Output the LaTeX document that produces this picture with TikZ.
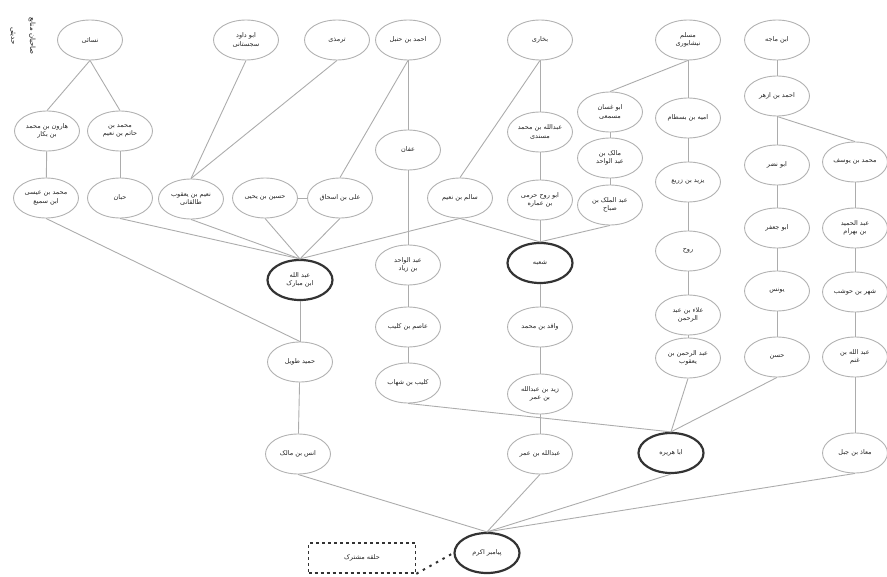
\documentclass[tikz,border=0pt]{standalone}
\usepackage{fontspec}
\newfontfamily\arabicfont[Script=Arabic]{DejaVu Sans}
\TeXXeTstate=1
\usetikzlibrary{shapes.geometric}
\newcommand{\prs}[1]{{\arabicfont\beginR #1\endR}}
\begin{document}
\begin{tikzpicture}[x=1pt,y=-1pt,
  nd/.style={ellipse, draw=gray!60, line width=0.9pt, fill=white,
    minimum width=65pt, minimum height=40pt, inner xsep=-12pt, inner ysep=-5pt,
    align=center, font=\fontsize{6.5}{8.5}\selectfont, text=black!85},
  keynd/.style={nd, draw=black!80, line width=2.2pt},
  ed/.style={draw=gray!65, line width=0.9pt},
  boxnd/.style={draw=black!80, line width=1.6pt, dash pattern=on 3pt off 3pt,
    minimum width=107pt, minimum height=30pt, inner sep=0pt,
    font=\fontsize{6.5}{8.5}\selectfont, text=black!85},
  dotline/.style={draw=black!80, line width=2pt, dash pattern=on 2.5pt off 5pt}]
\useasboundingbox (0,0) rectangle (887,577);

% row 1
\node[nd] (nasai) at (90,40) {\prs{نسائی}};
\node[nd] (abudawud) at (246,40) {\prs{ابو داود}\\\prs{سجستانی}};
\node[nd] (tirmidhi) at (337,40) {\prs{ترمذی}};
\node[nd] (ahmad) at (408,40) {\prs{احمد بن حنبل}};
\node[nd] (bukhari) at (540,40) {\prs{بخاری}};
\node[nd] (muslim) at (688,40) {\prs{مسلم}\\\prs{نیشابوری}};
\node[nd] (ibnmajah) at (777,40) {\prs{ابن ماجه}};

% row 2
\node[nd] (harun) at (47,131) {\prs{هارون بن محمد}\\\prs{بن بکار}};
\node[nd] (mhatim) at (120,131) {\prs{محمد بن}\\\prs{حاتم بن نعیم}};
\node[nd] (affan) at (408,150) {\prs{عفان}};
\node[nd] (musnadi) at (540,132) {\prs{عبدالله بن محمد}\\\prs{مسندی}};
\node[nd] (ghassan) at (610,112) {\prs{ابو غسان}\\\prs{مسمعی}};
\node[nd] (umayya) at (688,118) {\prs{امیه بن بسطام}};
\node[nd] (azhar) at (777,96) {\prs{احمد بن ازهر}};
\node[nd] (malik) at (610,158) {\prs{مالک بن}\\\prs{عبد الواحد}};
\node[nd] (nadr) at (777,165) {\prs{ابو نضر}};
\node[nd] (yusuf) at (855,162) {\prs{محمد بن یوسف}};
\node[nd] (yazid) at (688,182) {\prs{یزید بن زریع}};

% row 3
\node[nd] (isa) at (46,198) {\prs{محمد بن عیسی}\\\prs{ابن سمیع}};
\node[nd] (hibban) at (120,198) {\prs{حبان}};
\node[nd] (naim) at (191,199) {\prs{نعیم بن یعقوب}\\\prs{طالقانی}};
\node[nd] (husayn) at (265,198) {\prs{حسین بن یحیی}};
\node[nd] (ali) at (340,198) {\prs{علی بن اسحاق}};
\node[nd] (salim) at (460,198) {\prs{سالم بن نعیم}};
\node[nd] (harami) at (540,200) {\prs{ابو روح حرمی}\\\prs{بن عماره}};
\node[nd] (abdulmalik) at (610,205) {\prs{عبد الملک بن}\\\prs{صباح}};
\node[nd] (jafar) at (777,228) {\prs{ابو جعفر}};
\node[nd] (hamid) at (855,228) {\prs{عبد الحمید}\\\prs{بن بهرام}};
\node[nd] (rawh) at (688,251) {\prs{روح}};

% middle
\node[keynd] (mubarak) at (300,280) {\prs{عبد الله}\\\prs{ابن مبارک}};
\node[nd] (abdulwahid) at (408,265) {\prs{عبد الواحد}\\\prs{بن زیاد}};
\node[keynd] (shuba) at (540,263) {\prs{شعبه}};
\node[nd] (yunus) at (777,291) {\prs{یونس}};
\node[nd] (shahr) at (855,292) {\prs{شهر بن حوشب}};
\node[nd] (ala) at (688,315) {\prs{علاء بن عبد}\\\prs{الرحمن}};
\node[nd] (asim) at (408,327) {\prs{عاصم بن کلیب}};
\node[nd] (waqid) at (540,327) {\prs{واقد بن محمد}};
\node[nd] (abdrahman) at (688,358) {\prs{عبد الرحمن بن}\\\prs{یعقوب}};
\node[nd] (hasan) at (777,357) {\prs{حسن}};
\node[nd] (ghanm) at (855,357) {\prs{عبد الله بن}\\\prs{غنم}};
\node[nd] (humayd) at (300,362) {\prs{حمید طویل}};
\node[nd] (kulayb) at (408,383) {\prs{کلیب بن شهاب}};
\node[nd] (zayd) at (540,394) {\prs{زید بن عبدالله}\\\prs{بن عمر}};

% bottom
\node[nd] (anas) at (298,454) {\prs{انس بن مالک}};
\node[nd] (ibnumar) at (540,454) {\prs{عبدالله بن عمر}};
\node[keynd] (abuhurayra) at (671,453) {\prs{ابا هریره}};
\node[nd] (muadh) at (855,453) {\prs{معاذ بن جبل}};
\node[keynd] (payambar) at (487,553) {\prs{پیامبر اکرم}};
\node[boxnd] (box) at (362,558) {\prs{حلقه مشترک}};

% side label
\node[rotate=-90, align=center, font=\fontsize{7}{19}\selectfont, text=black!90] (lbl) at (23,36) {\prs{صاحبان منابع}\\\prs{حدیثی}};

% connectors
\draw[ed] (nasai.south) -- (harun.north);
\draw[ed] (nasai.south) -- (mhatim.north);
\draw[ed] (harun) -- (isa);
\draw[ed] (mhatim) -- (hibban);
\draw[ed] (abudawud.south) -- (naim.north);
\draw[ed] (tirmidhi.south) -- (naim.north);
\draw[ed] (ahmad.south) -- (ali.north);
\draw[ed] (ahmad) -- (affan);
\draw[ed] (bukhari.south) -- (salim.north);
\draw[ed] (bukhari) -- (musnadi);
\draw[ed] (musnadi) -- (harami);
\draw[ed] (muslim.south) -- (ghassan.north);
\draw[ed] (muslim) -- (umayya);
\draw[ed] (ghassan) -- (malik);
\draw[ed] (malik) -- (abdulmalik);
\draw[ed] (umayya) -- (yazid);
\draw[ed] (yazid) -- (rawh);
\draw[ed] (rawh) -- (ala);
\draw[ed] (ala) -- (abdrahman);
\draw[ed] (ibnmajah) -- (azhar);
\draw[ed] (azhar) -- (nadr);
\draw[ed] (azhar.south) -- (yusuf.north);
\draw[ed] (nadr) -- (jafar);
\draw[ed] (jafar) -- (yunus);
\draw[ed] (yunus) -- (hasan);
\draw[ed] (yusuf) -- (hamid);
\draw[ed] (hamid) -- (shahr);
\draw[ed] (shahr) -- (ghanm);
\draw[ed] (husayn) -- (ali);
\draw[ed] (isa.south) -- (humayd.north);
\draw[ed] (hibban.south) -- (mubarak.north);
\draw[ed] (naim.south) -- (mubarak.north);
\draw[ed] (husayn.south) -- (mubarak.north);
\draw[ed] (ali.south) -- (mubarak.north);
\draw[ed] (salim.south) -- (mubarak.north);
\draw[ed] (salim.south) -- (shuba.north);
\draw[ed] (harami) -- (shuba);
\draw[ed] (abdulmalik.south) -- (shuba.north);
\draw[ed] (affan) -- (abdulwahid);
\draw[ed] (abdulwahid) -- (asim);
\draw[ed] (asim) -- (kulayb);
\draw[ed] (kulayb.south) -- (abuhurayra.north);
\draw[ed] (abdrahman.south) -- (abuhurayra.north);
\draw[ed] (hasan.south) -- (abuhurayra.north);
\draw[ed] (mubarak) -- (humayd);
\draw[ed] (humayd) -- (anas);
\draw[ed] (shuba) -- (waqid);
\draw[ed] (waqid) -- (zayd);
\draw[ed] (zayd) -- (ibnumar);
\draw[ed] (ghanm) -- (muadh);
\draw[ed] (anas.south) -- (payambar.north);
\draw[ed] (ibnumar.south) -- (payambar.north);
\draw[ed] (abuhurayra.south) -- (payambar.north);
\draw[ed] (muadh.south) -- (payambar.north);
\draw[dotline] (box.south east) -- (payambar.west);
\end{tikzpicture}
\end{document}
